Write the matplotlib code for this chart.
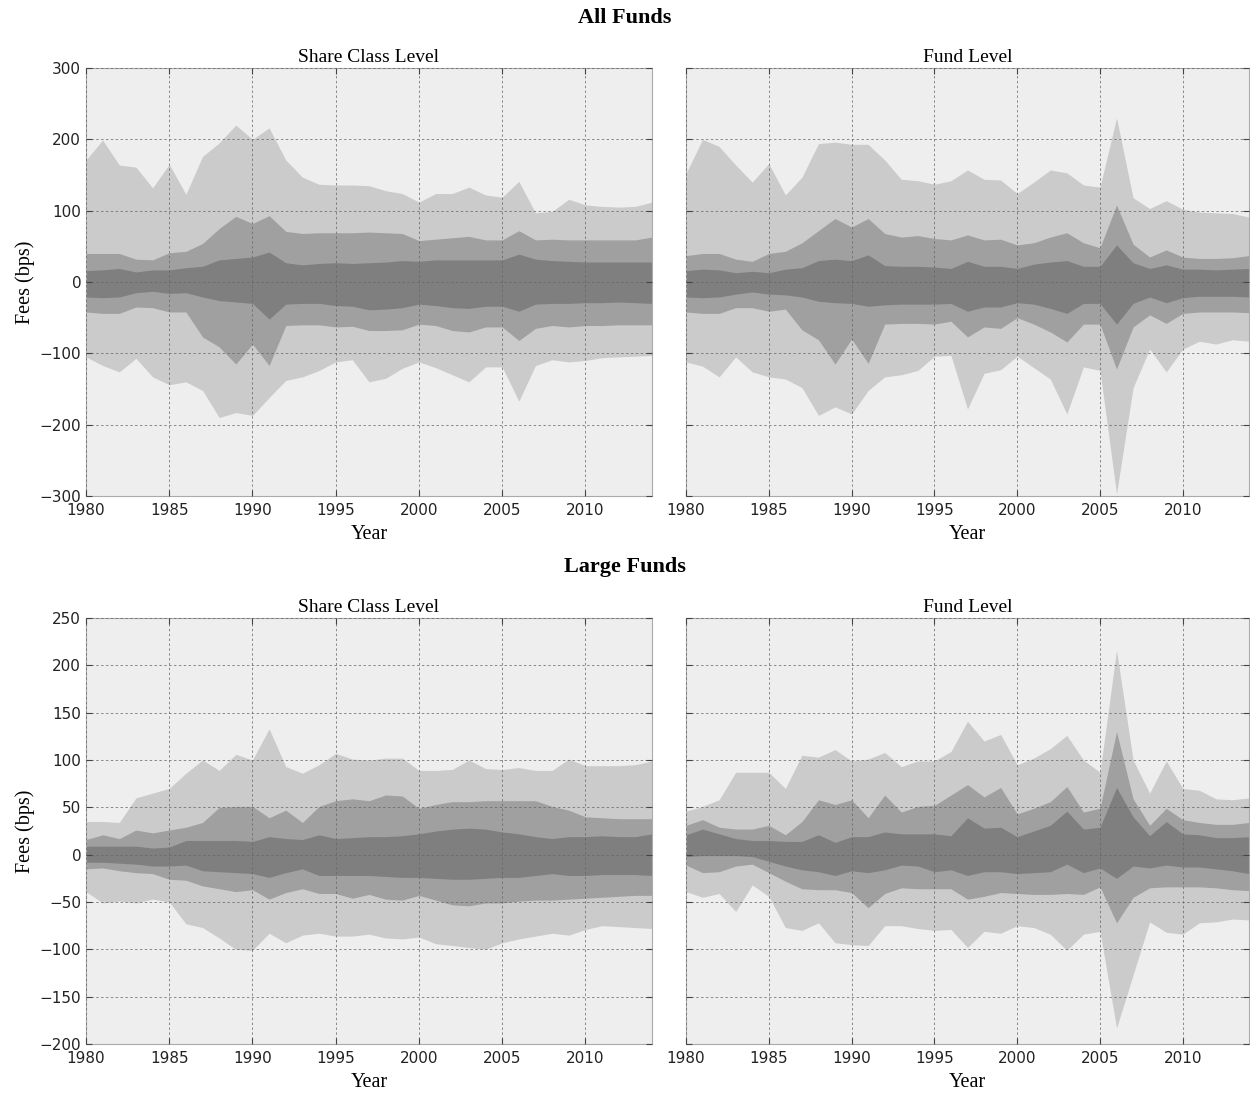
import matplotlib
matplotlib.use("Agg")
import matplotlib.pyplot as plt

years = list(range(1980, 2015))

# All funds, share class level
all_sc_outer_hi = [171, 199, 164, 161, 132, 165, 123, 176, 195, 220, 200, 216, 171, 147, 137, 136, 136, 135,
                   128, 124, 112, 124, 124, 133, 122, 119, 141, 97, 99, 116, 108, 106, 105, 106, 112]
all_sc_mid_hi = [40, 40, 40, 32, 31, 41, 43, 54, 75, 92, 82, 93, 71, 68, 69, 69, 69, 70,
                 69, 68, 58, 60, 62, 64, 59, 59, 72, 59, 60, 59, 59, 59, 59, 59, 63]
all_sc_in_hi = [16, 17, 19, 14, 17, 17, 20, 22, 31, 33, 35, 42, 27, 24, 26, 27, 26, 27,
                28, 30, 29, 31, 31, 31, 31, 31, 39, 32, 30, 29, 28, 28, 28, 28, 28]
all_sc_in_lo = [-21, -22, -21, -15, -13, -16, -15, -21, -26, -28, -30, -52, -31, -30, -30, -33, -34, -39,
                -38, -36, -31, -33, -36, -37, -34, -34, -41, -31, -30, -30, -29, -29, -28, -29, -30]
all_sc_mid_lo = [-42, -44, -44, -35, -36, -42, -42, -77, -91, -115, -87, -117, -61, -60, -60, -63, -62, -68,
                 -68, -67, -59, -61, -68, -70, -63, -63, -82, -65, -61, -63, -61, -61, -60, -60, -60]
all_sc_outer_lo = [-105, -117, -126, -107, -133, -144, -140, -152, -190, -183, -187, -162, -138, -133, -124,
                   -112, -109, -140, -135, -121, -112, -120, -130, -140, -119, -119, -167, -117, -109, -112,
                   -110, -106, -105, -104, -103]

# All funds, fund level
all_f_outer_hi = [152, 200, 190, 164, 140, 166, 122, 147, 194, 196, 193, 193, 171, 144, 142, 137, 142, 157,
                  144, 143, 124, 140, 157, 153, 136, 133, 230, 118, 103, 114, 102, 98, 97, 96, 91]
all_f_mid_hi = [37, 40, 40, 32, 29, 40, 43, 55, 72, 89, 77, 89, 68, 63, 65, 61, 59, 66,
                59, 60, 52, 55, 63, 69, 55, 48, 108, 53, 35, 45, 35, 33, 33, 34, 37]
all_f_in_hi = [16, 18, 17, 13, 15, 13, 18, 20, 30, 32, 30, 38, 23, 22, 22, 21, 19, 29,
               22, 22, 19, 25, 28, 30, 22, 22, 52, 27, 19, 24, 18, 18, 17, 18, 19]
all_f_in_lo = [-21, -22, -21, -17, -14, -17, -18, -21, -27, -29, -30, -34, -32, -31, -31, -31, -30, -41,
               -35, -35, -29, -31, -37, -44, -30, -30, -59, -30, -21, -29, -22, -20, -20, -20, -21]
all_f_mid_lo = [-42, -44, -44, -36, -36, -41, -38, -67, -81, -115, -80, -114, -59, -58, -58, -59, -55, -77,
                -63, -65, -50, -59, -70, -84, -59, -59, -122, -63, -46, -58, -44, -42, -42, -42, -43]
all_f_outer_lo = [-112, -118, -133, -105, -126, -133, -136, -148, -187, -175, -185, -152, -133, -130, -124,
                  -104, -103, -178, -128, -123, -104, -120, -136, -185, -119, -124, -297, -148, -94, -126,
                  -94, -83, -87, -81, -83]

# Large funds, share class level
lg_sc_outer_hi = [35, 35, 34, 60, 65, 70, 86, 100, 89, 106, 100, 133, 93, 86, 95, 107, 101, 100,
                  102, 102, 89, 89, 90, 100, 91, 90, 92, 89, 89, 101, 94, 94, 94, 95, 99]
lg_sc_mid_hi = [16, 21, 17, 26, 23, 26, 29, 34, 50, 51, 51, 39, 47, 34, 51, 57, 59, 57,
                63, 62, 49, 53, 56, 56, 57, 57, 57, 57, 51, 47, 40, 39, 38, 38, 38]
lg_sc_in_hi = [9, 9, 9, 9, 7, 8, 15, 15, 15, 15, 14, 19, 17, 16, 21, 17, 18, 19,
               19, 20, 22, 25, 27, 28, 27, 24, 22, 19, 17, 19, 19, 20, 19, 19, 22]
lg_sc_in_lo = [-8, -8, -9, -10, -12, -12, -11, -17, -18, -19, -20, -24, -19, -15, -22, -22, -22, -22,
               -23, -24, -24, -25, -26, -26, -25, -24, -24, -22, -20, -22, -22, -21, -21, -21, -22]
lg_sc_mid_lo = [-15, -14, -17, -19, -20, -26, -27, -33, -36, -39, -37, -47, -40, -36, -41, -41, -46, -42,
                -47, -48, -43, -48, -53, -54, -51, -51, -49, -48, -48, -47, -46, -45, -44, -43, -43]
lg_sc_outer_lo = [-39, -51, -49, -51, -47, -50, -73, -77, -88, -100, -101, -83, -93, -85, -83, -86, -86, -84,
                  -88, -89, -87, -94, -96, -98, -100, -93, -89, -86, -83, -85, -79, -75, -76, -77, -78]

# Large funds, fund level
lg_f_outer_hi = [46, 51, 58, 87, 87, 87, 70, 105, 103, 111, 99, 101, 108, 93, 99, 99, 109, 141,
                 120, 127, 95, 102, 112, 126, 100, 87, 216, 100, 65, 99, 70, 68, 59, 58, 60]
lg_f_mid_hi = [31, 37, 29, 27, 27, 31, 21, 35, 58, 53, 58, 39, 63, 45, 51, 52, 63, 74,
               61, 71, 43, 49, 56, 72, 45, 49, 130, 59, 31, 49, 37, 34, 32, 32, 34]
lg_f_in_hi = [21, 27, 22, 17, 15, 15, 14, 14, 21, 13, 19, 19, 24, 22, 22, 22, 20, 39,
              28, 29, 19, 25, 31, 46, 27, 29, 71, 40, 20, 35, 22, 21, 18, 18, 19]
lg_f_in_lo = [-2, -1, -1, -1, -2, -7, -12, -16, -18, -22, -17, -19, -16, -11, -12, -18, -16, -22,
              -18, -18, -20, -19, -18, -10, -19, -14, -25, -12, -14, -11, -13, -13, -15, -17, -20]
lg_f_mid_lo = [-11, -19, -18, -12, -10, -19, -28, -36, -37, -37, -40, -56, -41, -35, -36, -36, -36, -47,
               -44, -40, -41, -42, -42, -41, -42, -34, -72, -45, -35, -34, -34, -34, -35, -37, -38]
lg_f_outer_lo = [-39, -45, -41, -60, -32, -44, -77, -80, -72, -93, -95, -96, -75, -75, -78, -80, -79, -98,
                 -81, -83, -75, -77, -84, -101, -84, -81, -183, -127, -71, -82, -84, -72, -71, -68, -69]

panels = [
    (0, 0, "Share Class Level", [all_sc_outer_hi, all_sc_mid_hi, all_sc_in_hi, all_sc_in_lo, all_sc_mid_lo, all_sc_outer_lo]),
    (0, 1, "Fund Level", [all_f_outer_hi, all_f_mid_hi, all_f_in_hi, all_f_in_lo, all_f_mid_lo, all_f_outer_lo]),
    (1, 0, "Share Class Level", [lg_sc_outer_hi, lg_sc_mid_hi, lg_sc_in_hi, lg_sc_in_lo, lg_sc_mid_lo, lg_sc_outer_lo]),
    (1, 1, "Fund Level", [lg_f_outer_hi, lg_f_mid_hi, lg_f_in_hi, lg_f_in_lo, lg_f_mid_lo, lg_f_outer_lo]),
]

serif = "Liberation Serif"
W, H = 1250, 1093
fig = plt.figure(figsize=(W / 100, H / 100), dpi=100)

# axes boxes in pixels: left, top, right, bottom
boxes = {
    (0, 0): (86, 68, 652, 496),
    (0, 1): (686, 68, 1249, 496),
    (1, 0): (86, 618, 652, 1044),
    (1, 1): (686, 618, 1249, 1044),
}
ylims = {0: (-300, 300), 1: (-200, 250)}
yticks = {0: range(-300, 301, 100), 1: range(-200, 251, 50)}

for row, col, title, (o_hi, m_hi, i_hi, i_lo, m_lo, o_lo) in panels:
    l, t, r, b = boxes[(row, col)]
    ax = fig.add_axes([l / W, 1 - b / H, (r - l) / W, (b - t) / H])
    ax.set_facecolor("#eeeeee")
    ax.fill_between(years, o_lo, o_hi, color="#cbcbcb", lw=0)
    ax.fill_between(years, m_lo, m_hi, color="#a0a0a0", lw=0)
    ax.fill_between(years, i_lo, i_hi, color="#7f7f7f", lw=0)
    ax.set_xlim(1980, 2014)
    ax.set_ylim(*ylims[row])
    ax.set_xticks(range(1980, 2014, 5))
    ax.set_yticks(list(yticks[row]))
    ax.grid(True, color="#666666", linestyle=(0, (2.5, 2.5)), linewidth=0.7, alpha=0.75)
    ax.set_axisbelow(False)
    ax.tick_params(direction="in", top=True, right=True, length=4, width=0.8,
                   labelsize=11, colors="#444444", labelcolor="#222222")
    ax.tick_params(axis="x", pad=5)
    for s in ax.spines.values():
        s.set_color("#aaaaaa")
    ax.set_title(title, fontsize=14, family=serif, pad=4)
    ax.set_xlabel("Year", fontsize=14.5, family=serif, labelpad=5)
    if col == 0:
        ax.set_ylabel("Fees (bps)", fontsize=14.5, family=serif, labelpad=3)
    else:
        ax.set_yticklabels([])

fig.text(0.5, 1 - 18 / H, "All Funds", ha="center", va="center", fontsize=16, fontweight="bold", family=serif)
fig.text(0.5, 1 - 567 / H, "Large Funds", ha="center", va="center", fontsize=16, fontweight="bold", family=serif)

fig.savefig("out.png", dpi=100)
